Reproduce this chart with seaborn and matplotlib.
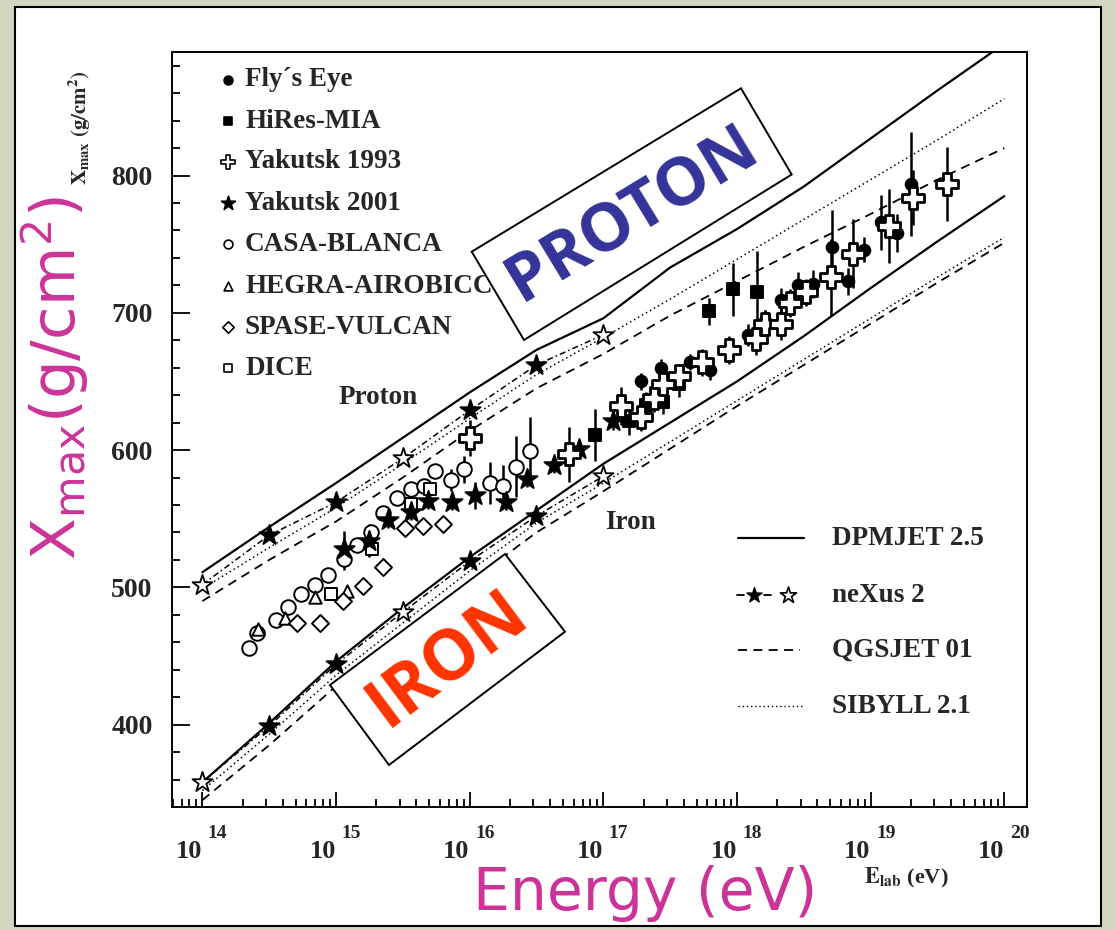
import matplotlib
matplotlib.use("Agg")
import numpy as np
import pandas as pd
import matplotlib.pyplot as plt
import matplotlib.transforms as mtransforms
from matplotlib.patches import Polygon, Rectangle
from matplotlib.ticker import FixedLocator, NullFormatter
import seaborn as sns

W, H = 1115, 930

# ---- model predictions: depth of shower maximum vs log10(E/eV) ----
model_lg = [14.0, 14.5, 15.0, 15.5, 16.0, 16.5, 17.0, 17.5, 18.0, 18.5, 19.0, 19.5, 20.0]
dpmjet_proton = [511, 544, 576, 609, 642, 673, 696, 733, 761, 792, 827, 862, 896]
dpmjet_iron = [358, 401, 446, 485, 522, 556, 590, 620, 650, 683, 718, 752, 785]
qgsjet_proton = [490, 520, 548, 580, 614, 645, 670, 698, 723, 748, 772, 797, 820]
qgsjet_iron = [345, 385, 428, 466, 504, 540, 570, 601, 632, 662, 692, 722, 751]
sibyll_proton = [499, 529, 558, 590, 623, 655, 682, 710, 739, 768, 797, 826, 856]
sibyll_iron = [352, 393, 436, 474, 512, 547, 576, 606, 636, 666, 696, 726, 755]

nexus_lg = [14.0, 14.5, 15.0, 15.5, 16.0, 16.5, 17.0]
nexus_proton = [502, 538, 562, 594, 629, 662, 684]
nexus_iron = [358, 399, 444, 482, 519, 552, 581]

# ---- measurements ----
flys_lg = [17.28, 17.43, 17.65, 17.80, 18.08, 18.21, 18.33, 18.46, 18.57, 18.71, 18.83, 18.95, 19.08, 19.20, 19.30]
flys_x = [650, 660, 664, 658, 684, 694, 709, 720, 721, 748, 723, 746, 766, 758, 794]
flys_err = [6, 6, 6, 7, 8, 8, 9, 10, 10, 27, 10, 9, 20, 14, 38]

hires_lg = [16.94, 17.19, 17.32, 17.45, 17.57, 17.79, 17.97, 18.15]
hires_x = [611, 621, 633, 635, 648, 701, 717, 715]
hires_err = [19, 10, 9, 9, 9, 10, 19, 30]

yak93_lg = [16.00, 16.74, 17.13, 17.28, 17.38, 17.45, 17.57, 17.74, 17.94, 18.14, 18.21, 18.33,
            18.40, 18.52, 18.70, 18.87, 19.14, 19.32, 19.57]
yak93_x = [609, 597, 632, 624, 638, 648, 654, 664, 673, 681, 692, 692,
           707, 715, 726, 743, 763, 784, 794]
yak93_err = [13, 20, 14, 10, 10, 10, 9, 10, 10, 12, 10, 12, 10, 10, 28, 25, 27, 20, 27]

yak01_lg = [15.06, 15.25, 15.39, 15.56, 15.69, 15.87, 16.04, 16.27, 16.43, 16.63, 16.82, 17.07]
yak01_x = [528, 534, 549, 555, 563, 562, 567, 562, 579, 589, 601, 621]
yak01_err = [13, 12, 6, 6, 6, 6, 10, 6, 6, 6, 6, 6]

casa_lg = [14.35, 14.41, 14.55, 14.64, 14.74, 14.84, 14.94, 15.06, 15.16, 15.26, 15.35,
           15.46, 15.56, 15.66, 15.74, 15.86, 15.96, 16.15, 16.25, 16.35, 16.45]
casa_x = [456, 467, 476, 486, 495, 502, 509, 521, 531, 540, 554,
          565, 572, 574, 585, 578, 586, 576, 574, 588, 599]
casa_err = [3, 3, 3, 3, 3, 3, 3, 8, 4, 4, 4, 4, 4, 4, 4, 8, 10, 15, 15, 22, 25]

hegra_lg = [14.42, 14.62, 14.84, 15.08]
hegra_x = [470, 478, 493, 497]

spase_lg = [14.71, 14.88, 15.05, 15.20, 15.35, 15.52, 15.65, 15.80]
spase_x = [474, 474, 490, 501, 515, 543, 545, 546]

dice_lg = [14.96, 15.27, 15.56, 15.70]
dice_x = [495, 528, 561, 572]

legend_sets = ["Fly\u00b4s Eye", "HiRes-MIA", "Yakutsk 1993", "Yakutsk 2001",
               "CASA-BLANCA", "HEGRA-AIROBICC", "SPASE-VULCAN", "DICE"]
legend_models = ["DPMJET 2.5", "neXus 2", "QGSJET 01", "SIBYLL 2.1"]
decades = [14, 15, 16, 17, 18, 19, 20]
y_major = [400, 500, 600, 700, 800]

# ---- style ----
sns.set_theme(style="white")
plt.rcParams["font.family"] = ["Liberation Serif", "DejaVu Serif"]
plt.rcParams["mathtext.fontset"] = "custom"
plt.rcParams["mathtext.rm"] = "DejaVu Sans"
plt.rcParams["mathtext.it"] = "DejaVu Sans:italic"
plt.rcParams["mathtext.bf"] = "DejaVu Sans:bold"
plt.rcParams["axes.edgecolor"] = "black"
plt.rcParams["axes.linewidth"] = 1.4

fig = plt.figure(figsize=(W / 100, H / 100), dpi=100)
fig.patch.set_facecolor("#d3d6c0")
# pixel coordinates measured from the top-left corner of the figure
TP = mtransforms.Affine2D().scale(1.0 / W, -1.0 / H).translate(0, 1) + fig.transFigure

fig.patches.append(Rectangle((15, 7), 1086, 919, transform=TP, facecolor="white",
                             edgecolor="black", lw=1.5, zorder=-10))

ax = fig.add_axes([172 / W, 1 - 807 / H, (1027 - 172) / W, (807 - 52) / H])
ax.set_zorder(1)
ax.set_facecolor("white")
ax.set_xscale("log")
ax.set_xlim(10 ** 13.773, 10 ** 20.17)
ax.set_ylim(340, 890)
for s in ax.spines.values():
    s.set_color("black")
    s.set_linewidth(1.4)


def model_curve(lg, xm, ls, lw):
    df = pd.DataFrame({"E": np.power(10.0, lg), "Xmax": xm})
    sns.lineplot(data=df, x="E", y="Xmax", ax=ax, color="black", sort=False,
                 estimator=None, legend=False, linestyle=ls, linewidth=lw, zorder=3)


for prim in (dpmjet_proton, dpmjet_iron):
    model_curve(model_lg, prim, "-", 1.6)
for prim in (qgsjet_proton, qgsjet_iron):
    model_curve(model_lg, prim, (0, (5, 3.5)), 1.3)
for prim in (sibyll_proton, sibyll_iron):
    model_curve(model_lg, prim, (0, (1, 2)), 1.1)
for prim in (nexus_proton, nexus_iron):
    model_curve(nexus_lg, prim, (0, (4, 2, 1, 2)), 1.1)

nexus_filled = [False, True, True, False, True, True, False]
for prim in (nexus_proton, nexus_iron):
    df = pd.DataFrame({"E": np.power(10.0, nexus_lg), "Xmax": prim,
                       "fill": ["black" if f else "white" for f in nexus_filled]})
    for fc, sub in df.groupby("fill"):
        sns.scatterplot(data=sub, x="E", y="Xmax", ax=ax, marker="*", s=230, color=fc,
                        edgecolor="black", linewidth=1.3, zorder=6, legend=False)


def data_points(lg, xm, marker, size, face, err=None, lw=1.4):
    e = np.power(10.0, lg)
    xm = np.asarray(xm, dtype=float)
    if err is not None:
        err = np.asarray(err, dtype=float)
        ax.vlines(e, xm - err, xm + err, color="black", lw=1.8, zorder=4)
    df = pd.DataFrame({"E": e, "Xmax": xm})
    sns.scatterplot(data=df, x="E", y="Xmax", ax=ax, marker=marker, s=size, color=face,
                    edgecolor="black", linewidth=lw, zorder=5, legend=False)


data_points(casa_lg, casa_x, "o", 110, "white", casa_err)
data_points(hegra_lg, hegra_x, "^", 80, "white")
data_points(spase_lg, spase_x, "D", 75, "white")
data_points(dice_lg, dice_x, "s", 85, "white")
data_points(yak01_lg, yak01_x, "*", 230, "black", yak01_err)
data_points(hires_lg, hires_x, "s", 65, "black", hires_err)
data_points(flys_lg, flys_x, "o", 70, "black", flys_err)
data_points(yak93_lg, yak93_x, "P", 250, "white", yak93_err, lw=2.0)

# ---- axes, ticks ----
ax.set_xlim(10 ** 13.773, 10 ** 20.17)
ax.set_ylim(340, 890)
ax.set_xlabel("")
ax.set_ylabel("")
ax.yaxis.set_major_locator(FixedLocator(y_major))
ax.set_yticklabels([str(v) for v in y_major], fontweight="bold", fontsize=20)
ax.yaxis.set_minor_locator(FixedLocator([v for v in range(360, 890, 20) if v % 100]))
ax.xaxis.set_major_locator(FixedLocator([10.0 ** d for d in decades]))
ax.xaxis.set_minor_locator(FixedLocator([m * 10.0 ** k for k in range(13, 20) for m in range(2, 10)]))
ax.xaxis.set_major_formatter(NullFormatter())
ax.xaxis.set_minor_formatter(NullFormatter())
ax.tick_params(which="both", direction="in", bottom=True, left=True, top=False, right=False,
               color="black", width=1.3)
ax.tick_params(axis="y", which="major", length=13, pad=14)
ax.tick_params(axis="y", which="minor", length=6)
ax.tick_params(axis="x", which="major", length=11)
ax.tick_params(axis="x", which="minor", length=6)

# decade labels 10^n
for d in decades:
    ax.annotate("10", xy=(10.0 ** d, 0), xycoords=("data", "axes fraction"),
                xytext=(0, -32), textcoords="offset points", ha="right", va="center",
                fontsize=19, fontweight="bold", annotation_clip=False)
    ax.annotate(str(d), xy=(10.0 ** d, 0), xycoords=("data", "axes fraction"),
                xytext=(4, -19), textcoords="offset points", ha="left", va="center",
                fontsize=14, fontweight="bold", annotation_clip=False)

# ---- legend of the measurements (upper left) ----
leg_markers = [("o", "black", 40), ("s", "black", 36), ("P", "white", 110), ("*", "black", 110),
               ("o", "white", 40), ("^", "white", 40), ("D", "white", 34), ("s", "white", 40)]
row_y = [80, 121.5, 162, 203.5, 244, 286, 327, 368]
for (mk, fc, sz), name, yy in zip(leg_markers, legend_sets, row_y):
    ax.scatter([228], [yy], transform=TP, marker=mk, s=sz, facecolor=fc, edgecolor="black",
               linewidth=1.2, clip_on=False, zorder=7)
    ax.text(245, yy, name, transform=TP, ha="left", va="center", fontsize=19.5, fontweight="bold")

# ---- legend of the models (lower right) ----
mrow = [538, 595, 650, 706]
ax.plot([738, 804], [mrow[0]] * 2, transform=TP, color="black", lw=1.6, clip_on=False)
ax.plot([737, 744], [mrow[1]] * 2, transform=TP, color="black", lw=1.3, clip_on=False)
ax.plot([764, 771], [mrow[1]] * 2, transform=TP, color="black", lw=1.3, clip_on=False)
ax.scatter([754], [mrow[1]], transform=TP, marker="*", s=130, facecolor="black",
           edgecolor="black", clip_on=False, zorder=7)
ax.scatter([788], [mrow[1]], transform=TP, marker="*", s=150, facecolor="white",
           edgecolor="black", linewidth=1.2, clip_on=False, zorder=7)
ax.plot([738, 800], [mrow[2]] * 2, transform=TP, color="black", lw=1.3,
        linestyle=(0, (5, 3.5)), clip_on=False)
ax.plot([738, 802], [mrow[3]] * 2, transform=TP, color="black", lw=1.0,
        linestyle=(0, (1, 2)), clip_on=False)
for name, yy in zip(legend_models, mrow):
    ax.text(832, yy, name, transform=TP, ha="left", va="center", fontsize=19.5, fontweight="bold")

ax.text(378, 397, "Proton", transform=TP, ha="center", va="center", fontsize=19.5, fontweight="bold")
ax.text(630, 522, "Iron", transform=TP, ha="center", va="center", fontsize=19.5, fontweight="bold")

# original axis titles
fig.text(80, 128, r"$\mathbf{X_{max}\ (g/cm^{2})}$", transform=TP, rotation=90,
         ha="center", va="center", fontsize=15, math_fontfamily="stix")
fig.text(906, 878, r"$\mathbf{E_{lab}}$ (eV)", transform=TP, ha="center", va="center",
         fontsize=16, fontweight="bold", math_fontfamily="stix")

# ---- annotations ----
magenta = "#cc3399"
fig.text(55, 378, r"X$_{\mathrm{max}}$(g/cm$^{\mathrm{2}}$)", transform=TP, rotation=90,
         ha="center", va="center", fontsize=44, color=magenta, family="DejaVu Sans",
         fontweight="normal", math_fontfamily="custom")
fig.text(645, 910, "Energy (eV)", transform=TP, ha="center", va="baseline", fontsize=42,
         color=magenta, family="DejaVu Sans", fontweight="normal")

proton_box = [(471.7, 251.7), (741, 88.3), (791.7, 174.5), (524, 340)]
iron_box = [(330, 685), (505, 554), (565, 631.7), (389, 765)]
for box in (proton_box, iron_box):
    fig.patches.append(Polygon(box, closed=True, transform=TP, facecolor="white",
                               edgecolor="black", lw=1.4, zorder=5))
fig.text(632, 214, "PROTON", transform=TP, rotation=31.2, rotation_mode="anchor",
         ha="center", va="center", fontsize=48, color="#333399", family="Open Sans",
         fontweight="bold", zorder=6)
fig.text(448, 659, "IRON", transform=TP, rotation=36.8, rotation_mode="anchor",
         ha="center", va="center", fontsize=50, color="#ff3300", family="Open Sans",
         fontweight="bold", zorder=6)

fig.savefig("out.png", dpi=100)
